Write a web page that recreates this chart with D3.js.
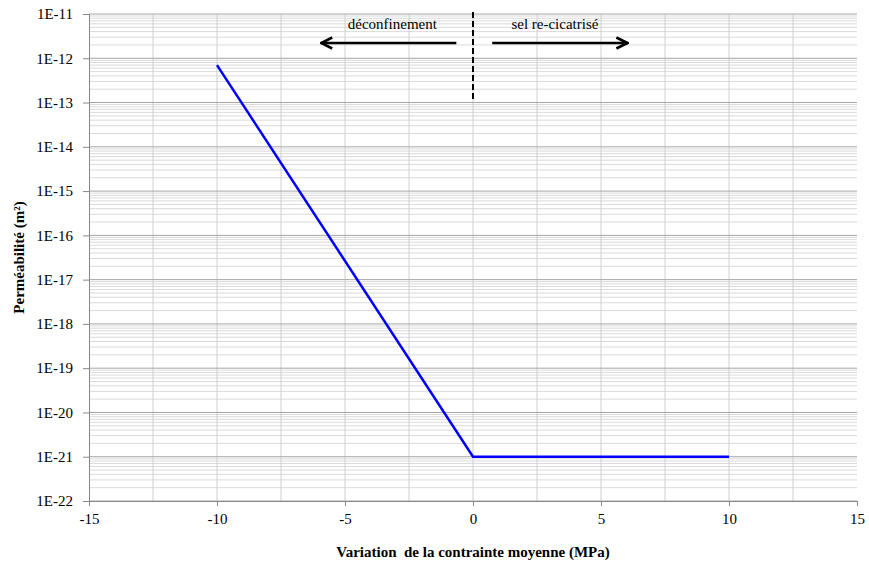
<!DOCTYPE html>
<html>
<head>
<meta charset="utf-8">
<script src="https://cdn.jsdelivr.net/npm/d3@7"></script>
<style>
  body { margin: 0; background: #fff; }
</style>
</head>
<body>
<svg id="chart" width="869" height="568"></svg>
<script>
// données
const contrainte = [-10, 0, 10]
const permeabilite = [7e-13, 1e-21, 1e-21]
const xTicks = [-15, -10, -5, 0, 5, 10, 15]
const yTicks = [1e-11, 1e-12, 1e-13, 1e-14, 1e-15, 1e-16, 1e-17, 1e-18, 1e-19, 1e-20, 1e-21, 1e-22]
const annotations = ['déconfinement', 'sel re-cicatrisé']

const FONT = 'Liberation Serif'
const svg = d3.select('#chart').attr('font-family', FONT)
const margin = { left: 89, right: 12, top: 14, bottom: 67 }
const W = 869, H = 568
const x = d3.scaleLinear().domain([-15, 15]).range([margin.left, W - margin.right])
const y = d3.scaleLog().domain([1e-22, 1e-11]).range([H - margin.bottom, margin.top])

// grille
const grid = svg.append('g')
const minor = []
for (let e = -22; e < -11; e++) for (let m = 2; m <= 9; m++) minor.push(m * Math.pow(10, e))
grid.selectAll('.minor').data(minor).join('line')
  .attr('x1', x(-15)).attr('x2', x(15))
  .attr('y1', d => y(d)).attr('y2', d => y(d))
  .attr('stroke', '#dadada').attr('stroke-width', 1)
grid.selectAll('.vx').data(d3.range(-12.5, 15, 2.5)).join('line')
  .attr('x1', d => x(d)).attr('x2', d => x(d))
  .attr('y1', y(1e-22)).attr('y2', y(1e-11))
  .attr('stroke', '#cfcfcf').attr('stroke-width', 1)
grid.selectAll('.major').data(yTicks).join('line')
  .attr('x1', x(-15)).attr('x2', x(15))
  .attr('y1', d => y(d)).attr('y2', d => y(d))
  .attr('stroke', '#a6a6a6').attr('stroke-width', 1)

// axes
const xAxis = svg.append('g')
  .attr('transform', `translate(0,${y(1e-22)})`)
  .call(d3.axisBottom(x).tickValues(xTicks).tickSize(5).tickPadding(7).tickFormat(d3.format('d')))
const yAxis = svg.append('g')
  .attr('transform', `translate(${x(-15)},0)`)
  .call(d3.axisLeft(y).tickValues(yTicks).tickSize(6).tickPadding(10)
    .tickFormat(d => '1E' + Math.round(Math.log10(d))))
for (const a of [xAxis, yAxis]) {
  a.attr('font-family', FONT).attr('font-size', 15)
  a.select('.domain').attr('stroke', '#888')
  a.selectAll('.tick line').attr('stroke', '#888')
  a.selectAll('.tick text').attr('fill', '#000')
}
xAxis.selectAll('.tick text').text(d => d < 0 ? '-' + Math.abs(d) : d)

// courbe
const line = d3.line().x(d => x(d[0])).y(d => y(d[1]))
svg.append('path')
  .datum(d3.zip(contrainte, permeabilite))
  .attr('d', line)
  .attr('fill', 'none').attr('stroke', '#0000ff').attr('stroke-width', 2.5)

// annotations
svg.append('line')
  .attr('x1', x(0)).attr('x2', x(0)).attr('y1', 12).attr('y2', 100)
  .attr('stroke', '#000').attr('stroke-width', 2).attr('stroke-dasharray', '6,3')
svg.append('defs').append('marker')
  .attr('id', 'fleche').attr('viewBox', '0 0 14 14').attr('refX', 13).attr('refY', 7)
  .attr('markerWidth', 14).attr('markerHeight', 14).attr('markerUnits', 'userSpaceOnUse')
  .attr('orient', 'auto')
  .append('path').attr('d', 'M1.5,1.5 L12.5,7 L1.5,12.5').attr('fill', 'none')
  .attr('stroke', '#000').attr('stroke-width', 2.6)
svg.append('line')
  .attr('x1', x(-0.65)).attr('x2', x(-5.95)).attr('y1', 43).attr('y2', 43)
  .attr('stroke', '#000').attr('stroke-width', 2.6).attr('marker-end', 'url(#fleche)')
svg.append('line')
  .attr('x1', x(0.75)).attr('x2', x(6.05)).attr('y1', 43).attr('y2', 43)
  .attr('stroke', '#000').attr('stroke-width', 2.6).attr('marker-end', 'url(#fleche)')
svg.selectAll('.annot').data(annotations).join('text')
  .attr('x', (d, i) => i === 0 ? x(-3.15) : x(3.2))
  .attr('y', 29).attr('text-anchor', 'middle')
  .attr('font-family', FONT).attr('font-size', 15).text(d => d)

// titres
svg.append('text')
  .attr('x', (x(-15) + x(15)) / 2).attr('y', 557).attr('text-anchor', 'middle')
  .attr('font-family', FONT).attr('font-size', 15).attr('font-weight', 'bold')
  .attr('xml:space', 'preserve')
  .text('Variation  de la contrainte moyenne (MPa)')
svg.append('text')
  .attr('transform', `translate(24,${(y(1e-22) + y(1e-11)) / 2}) rotate(-90)`)
  .attr('text-anchor', 'middle')
  .attr('font-family', FONT).attr('font-size', 15).attr('font-weight', 'bold')
  .text('Perméabilité (m²)')
</script>
</body>
</html>
